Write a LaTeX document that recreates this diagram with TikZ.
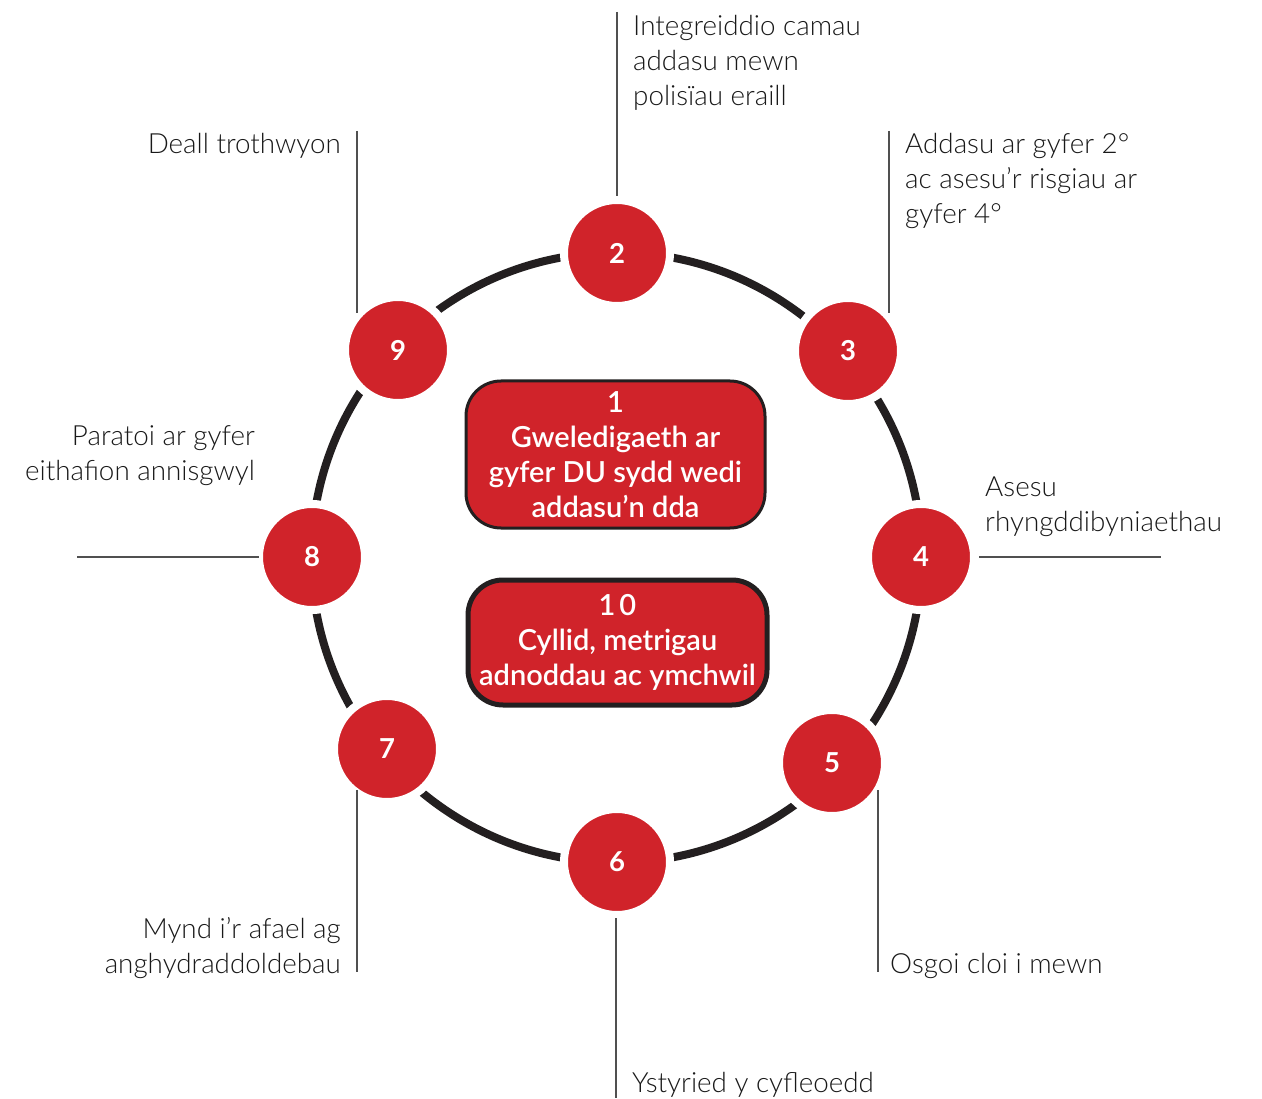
\documentclass[tikz,border=0pt]{standalone}
\usepackage{fontspec}
\IfFontExistsTF{Lato Light}{\newfontfamily\labfont{Lato Light}}{\newfontfamily\labfont{Lato}}
\IfFontExistsTF{Lato Semibold}{\newfontfamily\boxfont{Lato Semibold}}{\newfontfamily\boxfont{Lato}[UprightFont=* Bold]}
\newfontfamily\latofont{Lato}
\definecolor{cred}{RGB}{208,35,42}
\definecolor{cdark}{RGB}{35,31,32}
\definecolor{cgray}{RGB}{80,80,80}
\begin{document}
\begin{tikzpicture}[x=1pt,y=-1pt,
  ringline/.style={draw=cdark,line width=8pt},
  num/.style={circle,fill=cred,draw=white,line width=8pt,minimum size=106pt,inner sep=0pt,
    text=white,font=\latofont\bfseries\fontsize{27.5}{30}\selectfont},
  box/.style={rectangle,rounded corners=35pt,fill=cred,draw=cdark,text=white,align=center,
    minimum width=299pt,inner sep=0pt,font=\boxfont\fontsize{29}{35}\selectfont},
  leader/.style={draw=cgray,line width=1.4pt},
  lab/.style={inner sep=0pt,font=\labfont\fontsize{27.8}{35}\selectfont,text=black!90}]
\useasboundingbox[fill=white] (0,0) rectangle (1262,1099);
\draw[ringline] (616.5,557.5) circle[radius=305pt];
\node[num] (n2) at (617,253) {2};
\node[num] (n3) at (848,351) {3};
\node[num] (n4) at (921,557) {4};
\node[num] (n5) at (832,763) {5};
\node[num] (n6) at (617,862) {6};
\node[num] (n7) at (387,749) {7};
\node[num] (n8) at (312,557) {8};
\node[num] (n9) at (398,350) {9};
\node[box,line width=3pt,minimum height=147pt] (b1) at (615.5,454.5)
  {1\\Gweledigaeth ar\\gyfer DU sydd wedi\\addasu’n dda};
\node[box,line width=5pt,minimum height=125pt] (b10) at (617.5,642.5)
  {1\hspace{4pt}0\\Cyllid, metrigau\\adnoddau ac ymchwil};
% leaders
\coordinate (a2) at (617,12);  \coordinate (e2) at (617,196);
\coordinate (a3) at (889,131); \coordinate (e3) at (889,313);
\coordinate (a4) at (979,557); \coordinate (e4) at (1161,557);
\coordinate (a5) at (878,790); \coordinate (e5) at (878,972);
\coordinate (a6) at (616,918); \coordinate (e6) at (616,1098);
\coordinate (a7) at (357,790); \coordinate (e7) at (357,972);
\coordinate (a8) at (77,557);  \coordinate (e8) at (259,557);
\coordinate (a9) at (357,131); \coordinate (e9) at (357,313);
\foreach \i in {2,...,9} {\draw[leader] (a\i) -- (e\i);}
% labels
\node[lab,anchor=north west,align=left] (t2) at (633,15) {Integreiddio camau\\addasu mewn\\polisïau eraill};
\node[lab,anchor=north west,align=left] (t3) at (905,133) {Addasu ar gyfer 2°\\ac asesu’r risgiau ar\\gyfer 4°};
\node[lab,anchor=north west,align=left] (t4) at (985,477) {Asesu\\rhyngddibyniaethau};
\node[lab,anchor=north west,align=left] (t5) at (890,953) {Osgoi cloi i mewn};
\node[lab,anchor=north west,align=left] (t6) at (632,1072) {Ystyried y cyfleoedd};
\node[lab,anchor=north east,align=right] (t7) at (341,917) {Mynd i’r afael ag\\anghydraddoldebau};
\node[lab,anchor=north east,align=right] (t8) at (255,425) {Paratoi ar gyfer\\eithafion annisgwyl};
\node[lab,anchor=north east,align=right] (t9) at (341,133) {Deall trothwyon};
\end{tikzpicture}
\end{document}
